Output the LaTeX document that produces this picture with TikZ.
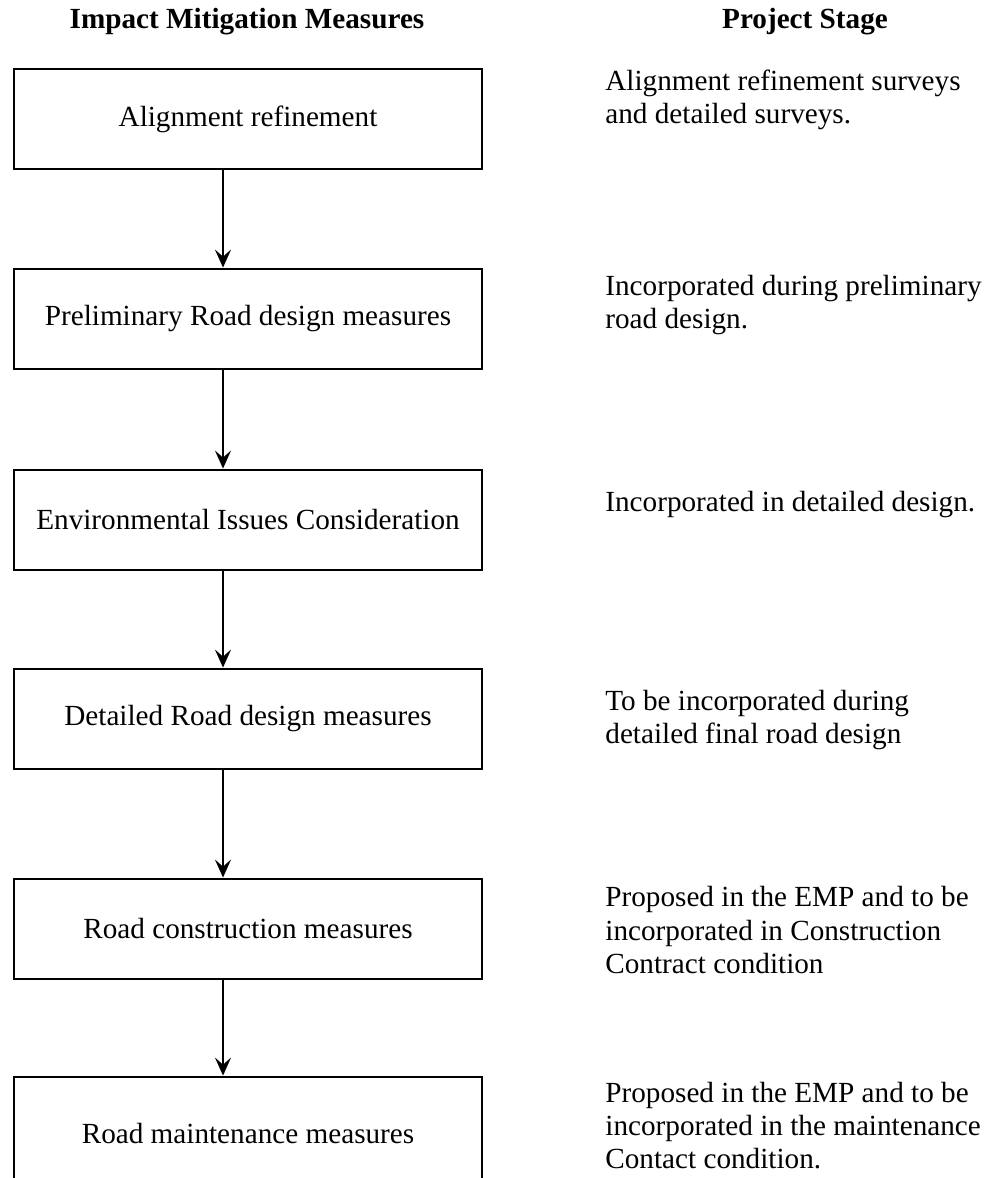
\documentclass[tikz,border=0pt]{standalone}
\usepackage{fontspec}
\setmainfont{Liberation Serif}
\usetikzlibrary{arrows.meta}
\begin{document}
\begin{tikzpicture}[x=0.5pt, y=-0.5pt,
	font=\fontsize{14.6}{16.5}\selectfont,
	measure/.style={draw, line width=1.4pt, minimum width=234pt, minimum height=50pt, inner sep=0pt},
	stage/.style={anchor=west, align=left, inner sep=0pt},
	head/.style={font=\fontsize{14.6}{16.5}\selectfont\bfseries, inner sep=0pt},
	flow/.style={line width=0.9pt, -{Stealth[length=9pt, width=8pt, inset=3.5pt]}}]
	\useasboundingbox (0, 0) rectangle (990, 1178);
	\node[head] (h0) at (247, 22) {Impact Mitigation Measures};
	\node[head] (h1) at (805, 22) {Project Stage};
	\node[measure] (1) at (248, 119) {Alignment refinement};
	\node[measure] (2) at (248, 319) {Preliminary Road design measures};
	\node[measure] (3) at (248, 520) {Environmental Issues Consideration};
	\node[measure] (4) at (248, 719) {Detailed Road design measures};
	\node[measure] (5) at (248, 929) {Road construction measures};
	\node[measure, minimum height=56pt] (6) at (248, 1133) {Road maintenance measures};
	\node[stage] (s1) at (605, 100) {Alignment refinement surveys\\and detailed surveys.};
	\node[stage] (s2) at (605, 305) {Incorporated during preliminary\\road design.};
	\node[stage] (s3) at (605, 505) {Incorporated in detailed design.};
	\node[stage] (s4) at (605, 720) {To be incorporated during\\detailed final road design};
	\node[stage] (s5) at (605, 930) {Proposed in the EMP and to be\\incorporated in Construction\\Contract condition};
	\node[stage] (s6) at (605, 1126) {Proposed in the EMP and to be\\incorporated in the maintenance\\Contact condition.};
	\coordinate (ax) at (223, 0);
	\draw[flow] (1.south -| ax) -- (2.north -| ax);
	\draw[flow] (2.south -| ax) -- (3.north -| ax);
	\draw[flow] (3.south -| ax) -- (4.north -| ax);
	\draw[flow] (4.south -| ax) -- (5.north -| ax);
	\draw[flow] (5.south -| ax) -- (6.north -| ax);
\end{tikzpicture}
\end{document}
